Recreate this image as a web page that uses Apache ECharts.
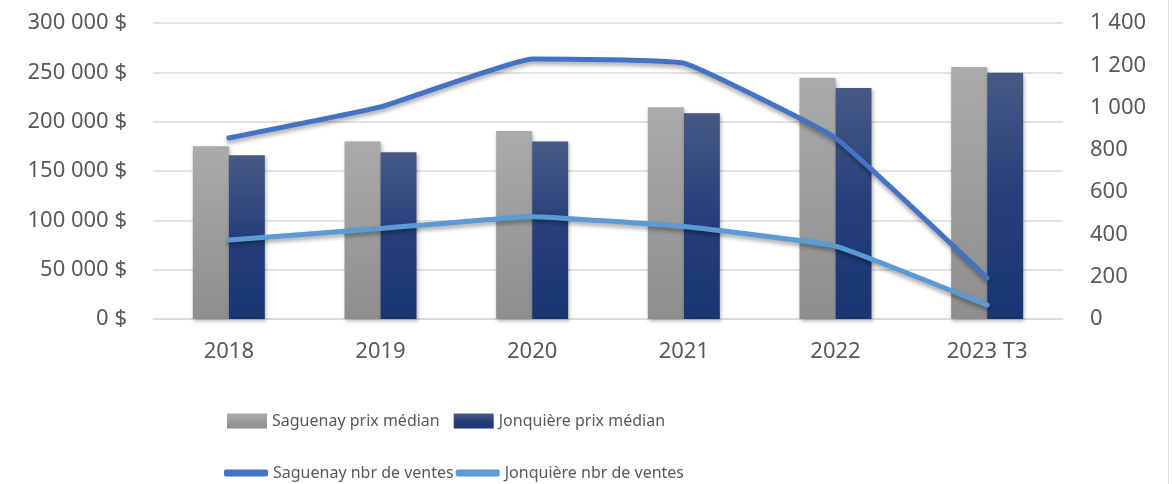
<!DOCTYPE html>
<html lang="fr">
<head>
<meta charset="UTF-8" />
<title>Prix médian et ventes</title>
<script src="https://cdn.jsdelivr.net/npm/echarts@6/dist/echarts.min.js"></script>
<style>
  * { margin: 0; padding: 0; }
  body { background: #fff; }
  #chart { width: 1172px; height: 484px; }
</style>
</head>
<body>
<div id="chart"></div>
<script>
const years = ["2018", "2019", "2020", "2021", "2022", "2023 T3"];
const sagPrix = [175000, 180000, 190500, 214500, 244500, 255500];
const jonPrix = [166000, 169000, 180000, 208500, 234000, 249500];
const sagVentes = [856, 1003, 1230, 1210, 856, 194];
const jonVentes = [374, 428, 484, 437, 345, 66];

const textColor = "#595959";
const spaced = (v) => String(v).replace(/\B(?=(\d{3})+(?!\d))/g, " ");

const chart = echarts.init(document.getElementById("chart"));

const barShadow = {
  shadowColor: "rgba(0,0,0,0.3)",
  shadowBlur: 4,
  shadowOffsetX: 1,
  shadowOffsetY: 2,
};
const lineShadow = {
  shadowColor: "rgba(0,0,0,0.35)",
  shadowBlur: 4,
  shadowOffsetY: 3,
};
const legendText = { fontFamily: "Noto Sans", fontSize: 16, color: textColor };

chart.setOption({
  animation: false,
  textStyle: { fontFamily: "Noto Sans", color: textColor },
  grid: { left: 153, right: 109, top: 23, bottom: 165 },
  // cadre du graphique à droite
  graphic: [
    {
      type: "rect",
      shape: { x: 1168, y: 0, width: 1, height: 484 },
      style: { fill: "#dadada" },
    },
  ],
  legend: [
    {
      left: 222,
      top: 408,
      itemWidth: 40,
      itemHeight: 15,
      itemGap: 14,
      icon: "rect",
      textStyle: legendText,
      data: ["Saguenay prix médian", "Jonquière prix médian"],
    },
    {
      left: 219,
      top: 460,
      itemWidth: 44,
      itemHeight: 7,
      itemGap: 2,
      icon: "roundRect",
      textStyle: legendText,
      data: ["Saguenay nbr de ventes", "Jonquière nbr de ventes"],
    },
  ],
  xAxis: {
    type: "category",
    data: years,
    axisTick: { show: false },
    axisLine: { lineStyle: { color: "#d9d9d9", width: 1.5 } },
    axisLabel: { color: textColor, fontSize: 22, margin: 22 },
  },
  yAxis: [
    {
      type: "value",
      min: 0,
      max: 300000,
      interval: 50000,
      axisLine: { show: false },
      axisTick: { show: false },
      splitLine: { lineStyle: { color: "#d9d9d9", width: 1.5 } },
      axisLabel: {
        color: textColor,
        fontSize: 22,
        margin: 26,
        formatter: (v) => spaced(v) + " $",
      },
    },
    {
      type: "value",
      min: 0,
      max: 1400,
      interval: 200,
      position: "right",
      axisLine: { show: false },
      axisTick: { show: false },
      splitLine: { show: false },
      axisLabel: {
        color: textColor,
        fontSize: 22,
        margin: 27,
        formatter: (v) => spaced(v),
      },
    },
  ],
  series: [
    {
      name: "Saguenay prix médian",
      type: "bar",
      data: sagPrix,
      barWidth: 36,
      barGap: "0%",
      itemStyle: Object.assign({
        color: new echarts.graphic.LinearGradient(0, 0, 0, 1, [
          { offset: 0, color: "#ababab" },
          { offset: 1, color: "#8e8e8e" },
        ]),
      }, barShadow),
    },
    {
      name: "Jonquière prix médian",
      type: "bar",
      data: jonPrix,
      barWidth: 36,
      itemStyle: Object.assign({
        color: new echarts.graphic.LinearGradient(0, 0, 0, 1, [
          { offset: 0, color: "#475a86" },
          { offset: 0.5, color: "#263f7a" },
          { offset: 1, color: "#183672" },
        ]),
      }, barShadow),
    },
    {
      name: "Saguenay nbr de ventes",
      type: "line",
      yAxisIndex: 1,
      data: sagVentes,
      smooth: 0.1,
      showSymbol: false,
      color: "#4472c4",
      lineStyle: Object.assign({ width: 5, color: "#4472c4", cap: "round" }, lineShadow),
    },
    {
      name: "Jonquière nbr de ventes",
      type: "line",
      yAxisIndex: 1,
      data: jonVentes,
      smooth: 0.1,
      showSymbol: false,
      color: "#5b9bd5",
      lineStyle: Object.assign({ width: 5, color: "#5b9bd5", cap: "round" }, lineShadow),
    },
  ],
});
</script>
</body>
</html>
